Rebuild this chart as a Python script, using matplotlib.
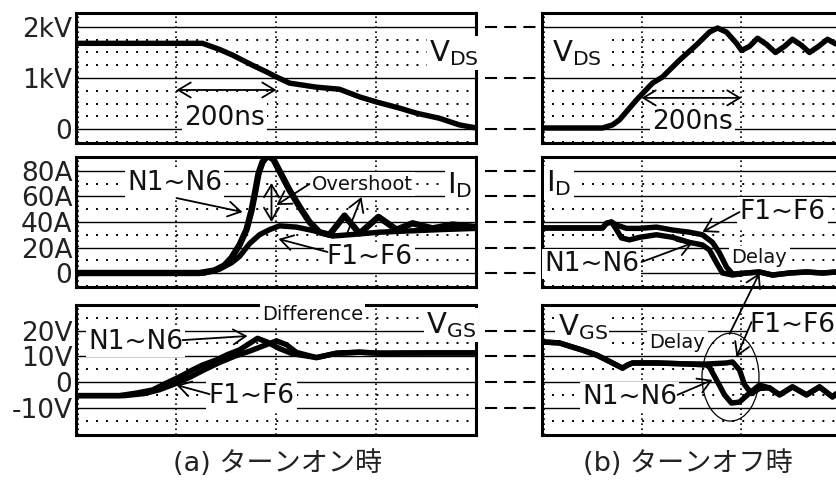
import matplotlib
matplotlib.use("Agg")
import matplotlib.pyplot as plt
import matplotlib.transforms as mtransforms
from matplotlib.patches import Ellipse, ConnectionPatch
from matplotlib.lines import Line2D

plt.rcParams['font.family'] = ['DejaVu Sans']
plt.rcParams['mathtext.fontset'] = 'dejavusans'

# ---------------- data (time in ns, 200 ns / division) ----------------
# (a) turn-on
vds_on_t = [0, 252, 286, 312, 352, 380, 400, 426, 480, 526, 566, 600, 646, 680, 726, 766, 800]
vds_on_v = [1.68, 1.68, 1.56, 1.45, 1.25, 1.12, 1.02, 0.90, 0.82, 0.78, 0.63, 0.53, 0.41, 0.31, 0.21, 0.08, 0.02]

id_on_n_t = [0, 246, 276, 296, 310, 326, 340, 350, 358, 364, 372, 382, 394, 406, 426, 446, 466, 486, 506, 536, 566, 604, 640, 672, 712, 752, 800]
id_on_n_a = [0, 0, 2, 6, 12, 22, 34, 49, 65, 78, 87, 92, 89, 80, 65, 52, 40, 32, 30, 45, 31, 44, 34, 39, 35, 38, 36]
id_on_f_t = [0, 256, 286, 310, 326, 346, 366, 386, 406, 440, 476, 512, 546, 606, 666, 726, 800]
id_on_f_a = [0, 0, 3, 8, 13, 23, 30, 34, 37, 36, 33, 29, 30, 32, 33, 34, 35]

vgs_on_n_t = [0, 86, 120, 152, 180, 206, 232, 252, 280, 300, 326, 346, 362, 382, 406, 432, 480, 520, 566, 606, 700, 800]
vgs_on_n_v = [-5.3, -5.3, -4.3, -3.1, -0.4, 2.0, 4.7, 6.6, 8.6, 10.5, 12.5, 15.0, 17.0, 15.5, 13.0, 11.0, 9.5, 11.2, 11.6, 11.2, 11.3, 11.3]
vgs_on_f_t = [0, 96, 136, 166, 196, 226, 256, 286, 316, 346, 370, 400, 420, 440, 480, 520, 566, 606, 700, 800]
vgs_on_f_v = [-5.3, -5.3, -4.5, -3.0, -0.8, 1.8, 4.8, 7.6, 10.0, 12.0, 13.8, 16.0, 14.5, 11.5, 9.5, 11.2, 11.6, 11.2, 11.3, 11.3]

# (b) turn-off
vds_off_t = [0, 122, 142, 156, 190, 222, 242, 276, 310, 336, 352, 370, 390, 400, 416, 432, 450, 468, 486, 502, 520, 536, 554, 572, 590, 606]
vds_off_v = [0.02, 0.02, 0.08, 0.18, 0.57, 0.90, 1.02, 1.35, 1.65, 1.90, 1.98, 1.90, 1.68, 1.54, 1.62, 1.78, 1.66, 1.50, 1.62, 1.76, 1.64, 1.50, 1.62, 1.76, 1.66, 1.52]

id_off_n_t = [0, 122, 130, 140, 150, 160, 176, 196, 230, 262, 296, 322, 336, 350, 362, 382, 410, 436, 462, 496, 530, 562, 590, 616]
id_off_n_a = [35.3, 35.3, 39, 40, 34, 27.5, 26, 28, 30, 28, 24, 22, 18, 8, 0, -1.6, 0, 0.8, -1.6, 0, 0.8, 0, 0.8, 0]
id_off_f_t = [0, 122, 130, 140, 150, 170, 196, 230, 262, 296, 322, 342, 356, 370, 382, 410, 436, 462, 496, 530, 562, 590, 616]
id_off_f_a = [35.3, 35.3, 39, 40, 37.6, 35, 35, 36, 33.7, 32, 30, 24, 15.7, 4.7, -0.8, 0, 0.8, -1.6, 0, 0.8, 0, 0.8, 0]

vgs_off_n_t = [0, 36, 62, 82, 110, 130, 150, 162, 172, 182, 230, 296, 330, 336, 350, 366, 380, 396, 416, 436, 456, 476, 502, 530, 556, 582, 606]
vgs_off_n_v = [15.6, 15.2, 13.6, 12.4, 10.5, 8.6, 6.6, 5.4, 6.6, 7.4, 7.4, 7.0, 6.6, 5.8, 0.8, -5.0, -8.2, -7.8, -4.3, -1.2, -2.3, -5.0, -1.9, -5.0, -1.9, -5.8, -2.0]
vgs_off_f_t = [0, 36, 62, 82, 110, 130, 150, 162, 172, 182, 230, 296, 330, 370, 382, 396, 406, 420, 436, 456, 476, 502, 530, 556, 582, 606]
vgs_off_f_v = [15.6, 15.2, 13.6, 12.4, 10.5, 8.6, 6.6, 5.4, 6.6, 7.4, 7.4, 7.0, 7.0, 7.4, 7.8, 4.7, -1.0, -4.5, -2.5, -2.3, -5.0, -1.9, -5.0, -1.9, -5.8, -2.0]

# axis ticks / grid
vds_major = [0, 1, 2]
vds_labels = ['0', '1kV', '2kV']
vds_minor = [-0.25, 0.25, 0.5, 0.75, 1.25, 1.5, 1.75, 2.25]
id_major = [0, 20, 40, 60, 80]
id_labels = ['0', '20A', '40A', '60A', '80A']
id_minor = [-10, 10, 30, 50, 70, 90]
vgs_major = [-10, 0, 10, 20]
vgs_labels = ['-10V', '0', '10V', '20V']
vgs_minor = [-15, -5, 5, 15, 25]
div_t = [200, 400, 600]

captions = ['(a) ターンオン時', '(b) ターンオフ時']

# ---------------- layout ----------------
W, H = 837, 480
fig = plt.figure(figsize=(W / 100, H / 100), dpi=100)


def px_axes(x0, y0, w, h):
    return fig.add_axes([x0 / W, 1 - (y0 + h) / H, w / W, h / H])


rows = [
    (13, (-0.2745, 2.2745), vds_major, vds_labels, vds_minor),
    (157, (-10.98, 90.98), id_major, id_labels, id_minor),
    (305, (-20.62, 29.96), vgs_major, vgs_labels, vgs_minor),
]

axes = {}
for ri, (y0, ylim, major, labels, minor) in enumerate(rows):
    for ci, x0 in enumerate([76.5, 541.5]):
        ax = px_axes(x0, y0, 400, 130)
        ax.set_xlim(0, 800)
        ax.set_ylim(*ylim)
        ax.set_xticks([])
        if ci == 0:
            ax.set_yticks(major, labels)
            ax.tick_params(axis='y', length=0, pad=3, labelsize=19, labelcolor='#222222')
        else:
            ax.set_yticks([])
        for s in ax.spines.values():
            s.set_linewidth(2.2)
        for y in major:
            ax.plot([0, 800], [y, y], color='black', lw=1.0, zorder=1)
        for y in minor:
            ax.plot([0, 800], [y, y], color='black', lw=1.4, ls=(0, (1, 4.15)), zorder=1)
        for t in [4] + div_t:
            ax.plot([t, t], ylim, color='black', lw=1.2, ls=(0, (1, 2)), zorder=1)
        axes[(ri, ci)] = ax

    # dashed connectors between left and right panels
    axL = axes[(ri, 0)]
    tr = mtransforms.blended_transform_factory(fig.transFigure, axL.transData)
    for y in major:
        fig.add_artist(Line2D([485 / W, 542 / W], [y, y], transform=tr, color='black',
                              lw=1.5, ls=(0, (5.8, 3.4))))

TR = dict(color='black', lw=3.9, solid_joinstyle='round', solid_capstyle='butt', zorder=4)

# traces
axes[(0, 0)].plot(vds_on_t, vds_on_v, **TR)
axes[(1, 0)].plot(id_on_n_t, id_on_n_a, **{**TR, 'lw': 4.6})
axes[(1, 0)].plot(id_on_f_t, id_on_f_a, **TR)
axes[(2, 0)].plot(vgs_on_n_t, vgs_on_n_v, **TR)
axes[(2, 0)].plot(vgs_on_f_t, vgs_on_f_v, **TR)
axes[(0, 1)].plot(vds_off_t, vds_off_v, **TR)
axes[(1, 1)].plot(id_off_n_t, id_off_n_a, **TR)
axes[(1, 1)].plot(id_off_f_t, id_off_f_a, **TR)
axes[(2, 1)].plot(vgs_off_n_t, vgs_off_n_v, **TR)
axes[(2, 1)].plot(vgs_off_f_t, vgs_off_f_v, **TR)


def label(ax, t, y, s, size=19, ha='center'):
    ax.text(t, y, s, fontsize=size, ha=ha, va='center', color='#111111', zorder=3,
            bbox=dict(facecolor='white', edgecolor='none', pad=1.5))


def arrow(ax, p0, p1, style='->'):
    ax.annotate('', xy=p1, xytext=p0, zorder=5,
                arrowprops=dict(arrowstyle=style + ',head_length=0.5,head_width=0.3', color='black',
                                lw=1.3, shrinkA=0, shrinkB=0, mutation_scale=18))


# --- top-left
a = axes[(0, 0)]
label(a, 296, 0.22, '200ns', 19)
arrow(a, (200, 0.765), (400, 0.765), '<->')
label(a, 706, 1.49, r'V$_{\mathregular{DS}}$', 21, 'left')
# --- top-right
a = axes[(0, 1)]
label(a, 22, 1.49, r'V$_{\mathregular{DS}}$', 21, 'left')
label(a, 302, 0.14, '200ns', 19)
arrow(a, (200, 0.61), (400, 0.61), '<->')

# --- middle-left
a = axes[(1, 0)]
label(a, 196, 70.6, 'N1~N6', 19)
arrow(a, (200, 58.8), (332, 47.8))
label(a, 572, 69.8, 'Overshoot', 14)
arrow(a, (466, 69.8), (400, 53.3))
arrow(a, (540, 29.8), (570, 59.6))
arrow(a, (390, 70.6), (390, 40), '<->')
label(a, 586, 12.5, 'F1~F6', 19)
arrow(a, (502, 16.5), (404, 26.7))
label(a, 742, 69, r'I$_{\mathregular{D}}$', 21, 'left')

# --- middle-right
a = axes[(1, 1)]
label(a, 10, 70.6, r'I$_{\mathregular{D}}$', 21, 'left')
label(a, 482, 47.8, 'F1~F6', 19)
arrow(a, (396, 47.8), (322, 32.2))
label(a, 100, 7, 'N1~N6', 19)
arrow(a, (200, 8.6), (302, 23.5))
label(a, 436, 11.8, 'Delay', 14)

# --- bottom-left
a = axes[(2, 0)]
label(a, 472, 26.1, 'Difference', 14)
label(a, 118, 15.6, 'N1~N6', 19)
arrow(a, (212, 16.3), (342, 17.9))
label(a, 350, -5.4, 'F1~F6', 19)
arrow(a, (266, -4.7), (200, -1.2))
label(a, 700, 22.2, r'V$_{\mathregular{GS}}$', 21, 'left')

# --- bottom-right
a = axes[(2, 1)]
label(a, 32, 21.4, r'V$_{\mathregular{GS}}$', 21, 'left')
label(a, 272, 15.2, 'Delay', 14)
a.add_patch(Ellipse((378, 1.9), 114, 34.2, fill=False, color='black', lw=0.9, zorder=5))
label(a, 502, 22.2, 'F1~F6', 19)
arrow(a, (420, 23.3), (390, 9.7))
label(a, 176, -5.8, 'N1~N6', 19)
arrow(a, (272, -5.0), (342, 0.8))

# cross-panel lines
cp = ConnectionPatch(xyA=(468, 30.5), coordsA='data', axesA=axes[(2, 0)],
                     xyB=(504, 1.6), coordsB='data', axesB=axes[(1, 0)],
                     color='black', lw=1.3, zorder=6)
fig.add_artist(cp)
cp2 = ConnectionPatch(xyA=(376, 18.7), coordsA='data', axesA=axes[(2, 1)],
                      xyB=(436, 0.0), coordsB='data', axesB=axes[(1, 1)],
                      arrowstyle='->,head_length=0.5,head_width=0.3', mutation_scale=18,
                      shrinkA=0, shrinkB=0, color='black', lw=1.3, zorder=6)
fig.add_artist(cp2)

# captions
for x, s in zip([278, 688], captions):
    fig.text(x / W, 1 - 471 / H, s, ha='center', va='baseline', fontsize=19.5, color='#222222',
             family=['DejaVu Sans', 'Noto Sans CJK JP'])

fig.savefig('out.png', dpi=100)
